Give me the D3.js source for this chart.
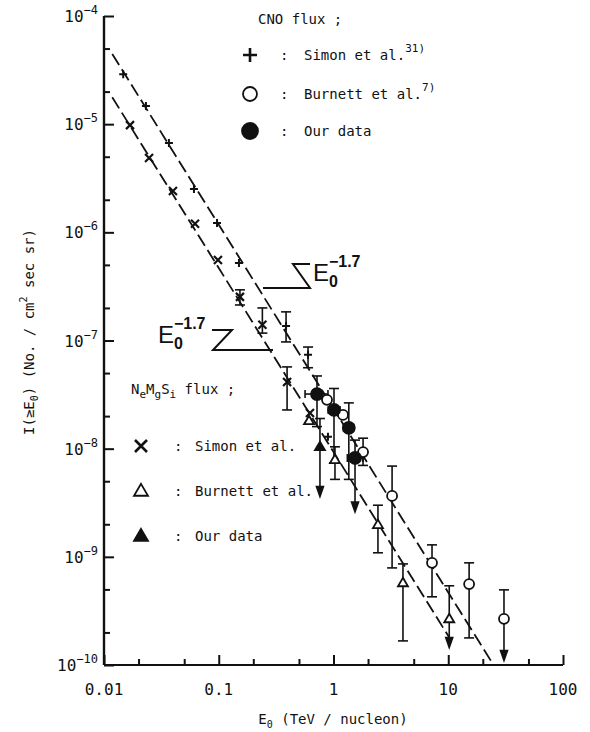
<!DOCTYPE html>
<html>
<head>
<meta charset="utf-8">
<script src="https://cdn.jsdelivr.net/npm/d3@7"></script>
<style>
body { margin: 0; background: #fff; }
text { font-family: "DejaVu Sans Mono", monospace; fill: #111; }
</style>
</head>
<body>
<div id="chart"></div>
<script>
// axis ticks
const xTicks = [0.01, 0.1, 1, 10, 100];
const xTickLabels = ["0.01", "0.1", "1", "10", "100"];
const yTicks = [1e-10, 1e-9, 1e-8, 1e-7, 1e-6, 1e-5, 1e-4];
const yTickExps = ["-10", "-9", "-8", "-7", "-6", "-5", "-4"];

// CNO flux, Simon et al. (+)
const cnoSimonE  = [0.0147, 0.0232, 0.0368, 0.0608, 0.0966, 0.150, 0.386, 0.600, 0.895];
const cnoSimonI  = [2.9e-5, 1.47e-5, 6.7e-6, 2.52e-6, 1.22e-6, 5.2e-7, 1.36e-7, 7.4e-8, 1.29e-8];
const cnoSimonLo = [null, null, null, null, null, null, 9.7e-8, 5.6e-8, null];
const cnoSimonHi = [null, null, null, null, null, null, 1.84e-7, 8.7e-8, null];

// CNO flux, Burnett et al. (open circle)
const cnoBurnettE  = [0.878, 1.21, 1.81, 3.24, 7.22, 15.2, 30.6];
const cnoBurnettI  = [2.83e-8, 2.05e-8, 9.3e-9, 3.66e-9, 8.8e-10, 5.6e-10, 2.67e-10];
const cnoBurnettLo = [null, null, 7.0e-9, 7.9e-10, 4.27e-10, 1.78e-10, null];
const cnoBurnettHi = [null, null, 1.25e-8, 6.9e-9, 1.29e-9, 8.8e-10, 4.95e-10];
const cnoBurnettDown = [null, null, null, null, null, null, 1.1e-10];

// CNO flux, our data (filled circle)
const cnoOurE  = [0.718, 1.01, 1.36, 1.54];
const cnoOurI  = [3.2e-8, 2.28e-8, 1.56e-8, 8.2e-9];
const cnoOurLo = [1.6e-8, 7.4e-9, 5.2e-9, null];
const cnoOurHi = [4.7e-8, 3.6e-8, 2.65e-8, 1.2e-8];
const cnoOurDown = [null, null, null, 2.6e-9];
const cnoOurELo = [0.565, 0.90, 1.22, 1.32];
const cnoOurEHi = [0.895, 1.14, 1.50, 1.80];

// NeMgSi flux, Simon et al. (x)
const nmsSimonE  = [0.01685, 0.0247, 0.0399, 0.0621, 0.0984, 0.153, 0.24, 0.394, 0.624];
const nmsSimonI  = [9.8e-6, 4.87e-6, 2.41e-6, 1.2e-6, 5.56e-7, 2.53e-7, 1.4e-7, 4.14e-8, 2.14e-8];
const nmsSimonLo = [null, null, null, null, null, 2.13e-7, 1.17e-7, 2.28e-8, null];
const nmsSimonHi = [null, null, null, null, null, 2.94e-7, 2.0e-7, 5.7e-8, null];

// NeMgSi flux, Burnett et al. (open triangle)
const nmsBurnettE  = [0.612, 1.03, 2.44, 4.03, 10.2];
const nmsBurnettI  = [1.81e-8, 7.9e-9, 1.98e-9, 5.75e-10, 2.67e-10];
const nmsBurnettLo = [null, 5.2e-9, 1.09e-9, 1.67e-10, null];
const nmsBurnettHi = [null, 1.04e-8, 3.0e-9, 8.6e-10, 5.4e-10];
const nmsBurnettDown = [null, null, null, null, 1.45e-10];

// NeMgSi flux, our data (filled triangle)
const nmsOurE  = [0.762];
const nmsOurI  = [1.04e-8];
const nmsOurHi = [1.9e-8];
const nmsOurDown = [3.6e-9];

// E0^-1.7 power-law lines (end points)
const cnoFitE = [0.0118, 24.8];
const cnoFitI = [4.45e-5, 1.0e-10];
const nmsFitE = [0.0118, 10.5];
const nmsFitI = [1.77e-5, 1.71e-10];

const width = 590, height = 732;

const x = d3.scaleLog().domain([0.01, 100]).range([104, 563]);
const y = d3.scaleLog().domain([1e-10, 1e-4]).range([665, 16]);

const svg = d3.select("#chart")
    .append("svg")
    .attr("width", width)
    .attr("height", height);

// minor ticks at 2 and 5 of every decade
const minorX = [], minorY = [];
[0.01, 0.1, 1, 10].forEach(d => { minorX.push(2 * d, 5 * d); });
yTicks.slice(0, 6).forEach(d => { minorY.push(2 * d, 5 * d); });

// axes (ticks point inward)
const xAxisG = svg.append("g").attr("transform", `translate(0,${y(1e-10)})`);
xAxisG.call(d3.axisBottom(x).tickValues(xTicks).tickSize(-10).tickFormat(""));
xAxisG.append("g").call(d3.axisBottom(x).tickValues(minorX).tickSize(-6).tickFormat(""));
const yAxisG = svg.append("g").attr("transform", `translate(${x(0.01)},0)`);
yAxisG.call(d3.axisLeft(y).tickValues(yTicks).tickSize(-10).tickFormat(""));
yAxisG.append("g").call(d3.axisLeft(y).tickValues(minorY).tickSize(-6).tickFormat(""));
svg.selectAll(".domain").attr("stroke", "#111").attr("stroke-width", 2.2);
svg.selectAll(".tick line").attr("stroke", "#111").attr("stroke-width", 2);
// outer spine caps
xAxisG.selectAll(".domain").attr("d", `M${x(0.01)},0H${x(100)}`);
yAxisG.selectAll(".domain").attr("d", `M0,${y(1e-10)}V${y(1e-4)}`);

// x tick labels
svg.selectAll("text.xlab")
    .data(xTicks)
    .enter()
    .append("text")
    .attr("x", d => x(d))
    .attr("y", y(1e-10) + 30)
    .attr("text-anchor", "middle")
    .attr("font-size", 16)
    .text((d, i) => xTickLabels[i]);

// y tick labels: 10 with superscript exponent
const ylab = svg.selectAll("text.ylab")
    .data(yTicks)
    .enter()
    .append("text")
    .attr("x", x(0.01) - 6)
    .attr("y", d => y(d) + 6)
    .attr("text-anchor", "end")
    .attr("font-size", 16);
ylab.append("tspan").text("10");
ylab.append("tspan").attr("dy", -8).attr("font-size", 12).text((d, i) => yTickExps[i].replace("-", "\u2212"));

// axis titles
const xt = svg.append("text")
    .attr("x", 333).attr("y", 724)
    .attr("text-anchor", "middle").attr("font-size", 14);
xt.append("tspan").text("E");
xt.append("tspan").attr("dy", 4).attr("font-size", 10).text("0");
xt.append("tspan").attr("dy", -4).text(" (TeV / nucleon)");

const yt = svg.append("text")
    .attr("transform", "translate(34,332) rotate(-90)")
    .attr("text-anchor", "middle").attr("font-size", 14);
yt.append("tspan").text("I(\u2265E");
yt.append("tspan").attr("dy", 4).attr("font-size", 10).text("0");
yt.append("tspan").attr("dy", -4).text(") (No. / cm");
yt.append("tspan").attr("dy", -7).attr("font-size", 10).text("2");
yt.append("tspan").attr("dy", 7).text(" sec sr)");

// power-law lines
const line = d3.line().x(d => x(d[0])).y(d => y(d[1]));
[[cnoFitE, cnoFitI], [nmsFitE, nmsFitI]].forEach(([E, I]) => {
    svg.append("path")
        .attr("d", line(d3.zip(E, I)))
        .attr("fill", "none")
        .attr("stroke", "#111")
        .attr("stroke-width", 1.8)
        .attr("stroke-dasharray", "13,5");
});

// error bars
const barG = svg.append("g").attr("stroke", "#111").attr("stroke-width", 1.6).attr("fill", "none");
function vbars(E, I, lo, hi, down) {
    E.forEach((e, i) => {
        const px = x(e), py = y(I[i]);
        if (hi && hi[i] != null) {
            barG.append("line").attr("x1", px).attr("x2", px).attr("y1", py).attr("y2", y(hi[i]));
            barG.append("line").attr("x1", px - 5).attr("x2", px + 5).attr("y1", y(hi[i])).attr("y2", y(hi[i]));
        }
        if (lo && lo[i] != null) {
            barG.append("line").attr("x1", px).attr("x2", px).attr("y1", py).attr("y2", y(lo[i]));
            barG.append("line").attr("x1", px - 5).attr("x2", px + 5).attr("y1", y(lo[i])).attr("y2", y(lo[i]));
        }
        if (down && down[i] != null) {
            const ty = y(down[i]);
            barG.append("line").attr("x1", px).attr("x2", px).attr("y1", py).attr("y2", ty - 6);
            barG.append("path").attr("d", `M${px - 3.5},${ty - 10}L${px + 3.5},${ty - 10}L${px},${ty}Z`)
                .attr("fill", "#111");
        }
    });
}
function hbars(E, I, elo, ehi) {
    E.forEach((e, i) => {
        const py = y(I[i]);
        barG.append("line").attr("x1", x(elo[i])).attr("x2", x(ehi[i])).attr("y1", py).attr("y2", py);
        barG.append("line").attr("x1", x(elo[i])).attr("x2", x(elo[i])).attr("y1", py - 4).attr("y2", py + 4);
        barG.append("line").attr("x1", x(ehi[i])).attr("x2", x(ehi[i])).attr("y1", py - 4).attr("y2", py + 4);
    });
}
vbars(cnoSimonE, cnoSimonI, cnoSimonLo, cnoSimonHi);
vbars(cnoBurnettE, cnoBurnettI, cnoBurnettLo, cnoBurnettHi, cnoBurnettDown);
vbars(cnoOurE, cnoOurI, cnoOurLo, cnoOurHi, cnoOurDown);
hbars(cnoOurE, cnoOurI, cnoOurELo, cnoOurEHi);
vbars(nmsSimonE, nmsSimonI, nmsSimonLo, nmsSimonHi);
vbars(nmsBurnettE, nmsBurnettI, nmsBurnettLo, nmsBurnettHi, nmsBurnettDown);
vbars(nmsOurE, nmsOurI, null, nmsOurHi, nmsOurDown);

// marker shapes
function drawMarker(g, kind, cx, cy, s) {
    if (kind === "plus") {
        g.append("path").attr("d", `M${cx - s},${cy}H${cx + s}M${cx},${cy - s}V${cy + s}`)
            .attr("stroke", "#111").attr("stroke-width", s > 5 ? 2.6 : 2);
    } else if (kind === "cross") {
        g.append("path").attr("d", `M${cx - s},${cy - s}L${cx + s},${cy + s}M${cx + s},${cy - s}L${cx - s},${cy + s}`)
            .attr("stroke", "#111").attr("stroke-width", s > 5 ? 2.6 : 2.2);
    } else if (kind === "circle" || kind === "dot") {
        g.append("circle").attr("cx", cx).attr("cy", cy).attr("r", s)
            .attr("fill", kind === "dot" ? "#111" : "#fff")
            .attr("stroke", "#111").attr("stroke-width", 1.8);
    } else {
        const h = s * 1.7;
        g.append("path").attr("d", `M${cx},${cy - h * 0.6}L${cx + s},${cy + h * 0.4}L${cx - s},${cy + h * 0.4}Z`)
            .attr("fill", kind === "tri" ? "#111" : "#fff")
            .attr("stroke", "#111").attr("stroke-width", 1.8);
    }
}

const markG = svg.append("g");
function points(E, I, kind, s) {
    E.forEach((e, i) => drawMarker(markG, kind, x(e), y(I[i]), s));
}
points(cnoSimonE, cnoSimonI, "plus", 4);
points(nmsSimonE, nmsSimonI, "cross", 4);
points(nmsBurnettE, nmsBurnettI, "otri", 5);
points(nmsOurE, nmsOurI, "tri", 5);
points(cnoBurnettE, cnoBurnettI, "circle", 5);
points(cnoOurE, cnoOurI, "dot", 6);

// E0^-1.7 labels with leader lines
function powerLabel(lx, ly, leader) {
    svg.append("path").attr("d", d3.line()(leader))
        .attr("fill", "none").attr("stroke", "#111").attr("stroke-width", 2);
    const t = svg.append("text").attr("x", lx).attr("y", ly)
        .style("font-family", "'Liberation Sans', Arial, sans-serif")
        .attr("font-size", 24);
    t.append("tspan").text("E");
    t.append("tspan").attr("dy", 6).attr("font-size", 16).attr("font-weight", "bold").text("0");
    t.append("tspan").attr("dx", -9).attr("dy", -20).attr("font-size", 16).attr("font-weight", "bold").text("\u22121.7");
}
powerLabel(313, 281, [[263, 288], [310, 288], [293, 264], [310, 264]]);
powerLabel(158, 343, [[263 + 10, 350], [213, 350], [232, 330], [212, 330]]);

// legends
function legend(title, rows, tx, ty, sx, cx, txx) {
    const lg = svg.append("g");
    lg.append("text").attr("x", tx).attr("y", ty).attr("font-size", 14).call(title);
    rows.forEach(r => {
        drawMarker(lg, r.kind, sx, r.y, r.s);
        lg.append("text").attr("x", cx).attr("y", r.y + 5).attr("font-size", 14).text(":");
        const t = lg.append("text").attr("x", txx).attr("y", r.y + 5).attr("font-size", 14);
        t.append("tspan").text(r.label);
        if (r.sup) t.append("tspan").attr("dy", -8).attr("font-size", 11).text(r.sup);
    });
}
legend(t => t.text("CNO flux ;"),
    [{kind: "plus", s: 7, y: 55, label: "Simon  et al.", sup: "31)"},
     {kind: "circle", s: 7, y: 94, label: "Burnett et al.", sup: "7)"},
     {kind: "dot", s: 8, y: 131, label: "Our data"}],
    258, 24, 250, 280, 304);

legend(t => {
        t.append("tspan").text("N");
        t.append("tspan").attr("dy", 4).attr("font-size", 11).text("e");
        t.append("tspan").attr("dy", -4).text("M");
        t.append("tspan").attr("dy", 4).attr("font-size", 11).text("g");
        t.append("tspan").attr("dy", -4).text("S");
        t.append("tspan").attr("dy", 4).attr("font-size", 11).text("i");
        t.append("tspan").attr("dy", -4).text(" flux ;");
    },
    [{kind: "cross", s: 6, y: 446, label: "Simon et al."},
     {kind: "otri", s: 7, y: 491, label: "Burnett et al."},
     {kind: "tri", s: 7, y: 536, label: "Our data"}],
    131, 394, 141, 174, 195);
</script>
</body>
</html>
